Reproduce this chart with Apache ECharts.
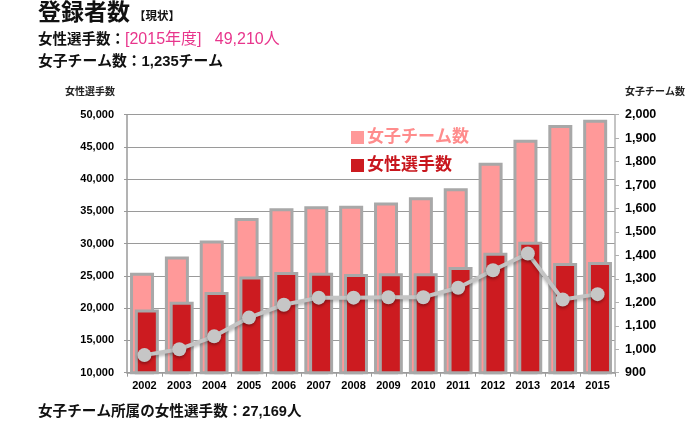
<!DOCTYPE html>
<html>
<head>
<meta charset="utf-8">
<script src="https://cdn.jsdelivr.net/npm/echarts@6/dist/echarts.min.js"></script>
<style>
html,body{margin:0;padding:0;background:#fff;}
#c{width:700px;height:424px;}
</style>
</head>
<body>
<div id="c"></div>
<script>
const years = ['2002','2003','2004','2005','2006','2007','2008','2009','2010','2011','2012','2013','2014','2015'];
const femalePlayers = [25500, 28000, 30500, 34000, 35500, 35800, 35900, 36400, 37200, 38600, 42550, 46100, 48400, 49210];
const teamPlayers = [19800, 21000, 22500, 24900, 25600, 25500, 25300, 25400, 25400, 26400, 28600, 30300, 27000, 27169];
const teamCounts = [975, 1000, 1055, 1135, 1190, 1220, 1220, 1222, 1222, 1262, 1337, 1408, 1212, 1235];
const leftAxis = {min: 10000, max: 50000, step: 5000};
const rightAxis = {min: 900, max: 2000, step: 100};

const FONT = '"Liberation Sans", Arial, "Noto Sans CJK JP", sans-serif';
const fmt = v => Number(v).toLocaleString('en-US');

const chart = echarts.init(document.getElementById('c'), null, {renderer: 'canvas'});
chart.setOption({
  animation: false,
  backgroundColor: '#fff',
  textStyle: {fontFamily: FONT},
  grid: {left: 127, right: 85, top: 114.7, bottom: 51.3, containLabel: false},
  legend: {
    orient: 'vertical',
    left: 346,
    top: 124,
    itemGap: 11,
    itemWidth: 13,
    itemHeight: 13,
    icon: 'rect',
    itemStyle: {borderWidth: 0},
    data: [
      {name: '女子チーム数', textStyle: {color: '#ff8c8c'}},
      {name: '女性選手数', textStyle: {color: '#c8161d'}}
    ],
    textStyle: {fontSize: 17, fontWeight: 'bold', fontFamily: FONT, padding: [0,0,0,-2]}
  },
  xAxis: {
    type: 'category',
    data: years,
    boundaryGap: true,
    axisLine: {lineStyle: {color: '#9a9a9a', width: 1.5}},
    axisTick: {show: true, length: 4, lineStyle: {color: '#9a9a9a'}},
    axisLabel: {color: '#000', fontSize: 11, fontWeight: 'bold', margin: 8, fontFamily: FONT}
  },
  yAxis: [
    {
      type: 'value',
      min: leftAxis.min, max: leftAxis.max, interval: leftAxis.step,
      axisLine: {show: true, lineStyle: {color: '#9a9a9a', width: 1.5}},
      axisTick: {show: true, length: 3, lineStyle: {color: '#9a9a9a'}},
      splitLine: {show: true, lineStyle: {color: '#9a9a9a', width: 1}},
      axisLabel: {color: '#000', fontSize: 11, fontWeight: 'bold', margin: 13, formatter: fmt, fontFamily: FONT}
    },
    {
      type: 'value',
      min: rightAxis.min, max: rightAxis.max, interval: rightAxis.step,
      position: 'right',
      axisLine: {show: true, lineStyle: {color: '#b0b0b0', width: 1.5}},
      axisTick: {show: true, length: 4, inside: false, lineStyle: {color: '#b0b0b0'}},
      splitLine: {show: false},
      axisLabel: {color: '#000', fontSize: 12.5, fontWeight: 'bold', margin: 10, formatter: fmt, fontFamily: FONT}
    }
  ],
  series: [
    {
      name: '女子チーム数',
      type: 'bar',
      data: femalePlayers,
      barWidth: 24,
      barGap: '-80%',
      itemStyle: {color: '#ff9999', borderColor: '#a8a8a8', borderWidth: 3},
      z: 2
    },
    {
      name: '女性選手数',
      type: 'bar',
      data: teamPlayers,
      barWidth: 24,
      barGap: '-80%',
      itemStyle: {color: '#cc1b20', borderColor: '#a8a8a8', borderWidth: 3},
      z: 3
    },
    {
      name: 'チーム数',
      type: 'line',
      yAxisIndex: 1,
      data: teamCounts,
      symbol: 'circle',
      symbolSize: 14,
      lineStyle: {color: '#c4c4c4', width: 4, shadowBlur: 3, shadowColor: 'rgba(0,0,0,0.25)', shadowOffsetY: 2},
      itemStyle: {color: '#c6c6c6', shadowBlur: 3, shadowColor: 'rgba(0,0,0,0.3)', shadowOffsetY: 2},
      z: 5
    }
  ],
  graphic: [
    {type: 'text', left: 38, top: 2, style: {text: '登録者数', fontSize: 23, fontWeight: 'bold', fill: '#111', fontFamily: FONT}},
    {type: 'text', left: 134, top: 11, style: {text: '【現状】', fontSize: 11.5, fontWeight: 'bold', fill: '#111', fontFamily: FONT}},
    {type: 'text', left: 38, top: 32, style: {
      text: '{k|女性選手数：}{p|[2015年度]   49,210人}',
      rich: {
        k: {fontSize: 14.5, fontWeight: 'bold', fill: '#111', fontFamily: FONT},
        p: {fontSize: 16, fontWeight: 'normal', fill: '#e8358c', fontFamily: FONT}
      }
    }},
    {type: 'text', left: 38, top: 55, style: {text: '女子チーム数：1,235チーム', fontSize: 14.8, fontWeight: 'bold', fill: '#111', fontFamily: FONT}},
    {type: 'text', left: 65, top: 87, style: {text: '女性選手数', fontSize: 10, fontWeight: 'bold', fill: '#222', fontFamily: FONT}},
    {type: 'text', left: 625, top: 87, style: {text: '女子チーム数', fontSize: 10, fontWeight: 'bold', fill: '#222', fontFamily: FONT}},
    {type: 'text', left: 38, top: 405, style: {text: '女子チーム所属の女性選手数：27,169人', fontSize: 14.6, fontWeight: 'bold', fill: '#111', fontFamily: FONT}}
  ]
});
</script>
</body>
</html>
